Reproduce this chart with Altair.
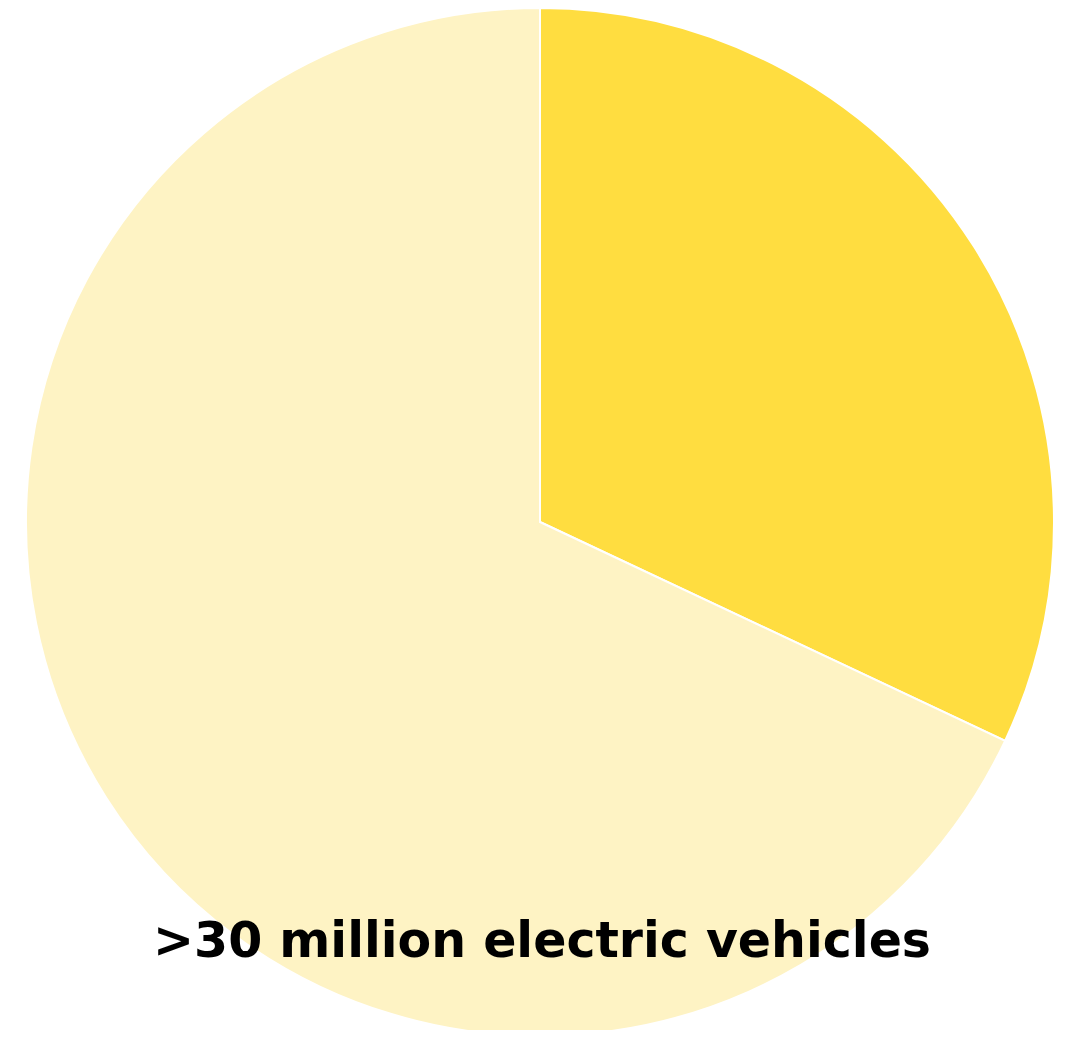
import altair as alt
import pandas as pd

categories = ["Electric vehicles", "Other"]
values = [32, 68]
colors = ["#FFDD40", "#FEF3C4"]
label = ">30 million electric vehicles"

df = pd.DataFrame({"category": categories, "value": values, "order": [0, 1]})

pie = alt.Chart(df).mark_arc(outerRadius=514, stroke="white", strokeWidth=2).encode(
    theta=alt.Theta("value:Q", stack=True),
    order=alt.Order("order:Q"),
    color=alt.Color("category:N", scale=alt.Scale(domain=categories, range=colors), legend=None),
    x=alt.value(532),
    y=alt.value(514),
)

text = alt.Chart(pd.DataFrame({"t": [label]})).mark_text(
    font="DejaVu Sans", fontWeight="bold", fontSize=49, color="black", align="center", baseline="middle"
).encode(text="t:N", x=alt.value(534), y=alt.value(934))

chart = alt.layer(pie, text).properties(
    width=1061, height=1022, padding=0, autosize=alt.AutoSizeParams(type="none")
).configure_view(stroke=None)

chart.save("out.html", embed_options={"renderer": "svg", "actions": False})
